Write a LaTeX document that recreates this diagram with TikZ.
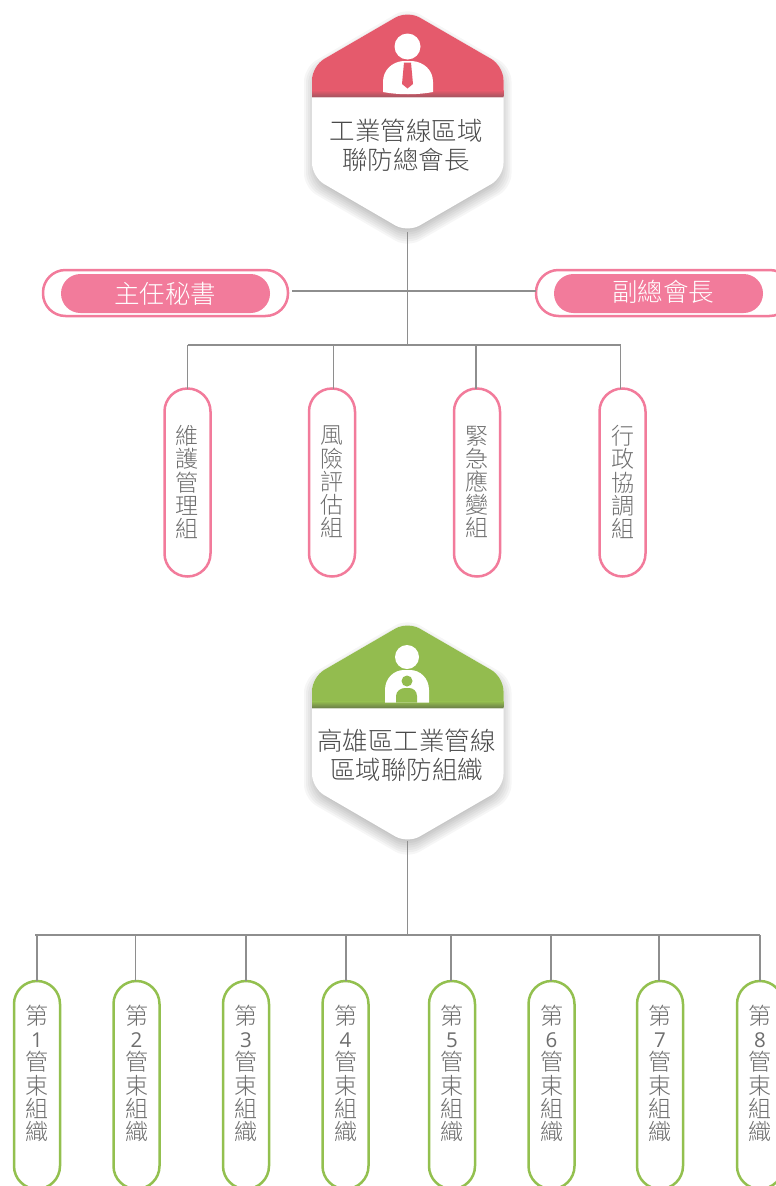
\documentclass[tikz,border=0pt]{standalone}
\usepackage{fontspec}
\newfontfamily\cjk{Noto Sans CJK TC Light}
\newfontfamily\dig{Open Sans}
\usetikzlibrary{calc}
\definecolor{hexred}{HTML}{E55A6C}
\definecolor{hexreddark}{HTML}{A85560}
\definecolor{hexgreen}{HTML}{93BC4F}
\definecolor{hexgreendark}{HTML}{6E8248}
\definecolor{pink}{HTML}{F27B9B}
\definecolor{pillgreen}{HTML}{93C04F}
\definecolor{conn}{HTML}{8E8E8E}
\definecolor{txtdark}{HTML}{4A4A4A}
\definecolor{txtgray}{HTML}{6E6E6E}
\newcommand{\hexshape}[1]{(407.5,#1+10.5) -- (503.5,#1+66) -- (503.5,#1+177) -- (407.5,#1+232.5) -- (312,#1+177) -- (312,#1+66) -- cycle}
\newcommand{\hexinset}[2]{(407.5,#1+10.5+1.155*#2) -- (503.5-#2,#1+66+0.577*#2) -- (503.5-#2,#1+177-0.577*#2) -- (407.5,#1+232.5-1.155*#2) -- (312+#2,#1+177-0.577*#2) -- (312+#2,#1+66+0.577*#2) -- cycle}
\newcommand{\hexagonbadge}[3]{%
  \foreach \d in {-8,-6,...,12}{
    \fill[black,opacity=.035,rounded corners=14pt,shift={(0,6)}] \hexinset{#1}{\d};
  }
  \fill[white,rounded corners=14pt] \hexshape{#1};
  \begin{scope}
    \clip[rounded corners=14pt] \hexshape{#1};
    \fill[#2] (300,#1) rectangle (515,#1+91);
    \shade[top color=#2,bottom color=#3] (300,#1+90.5) rectangle (515,#1+96.5);
    \fill[white!70!#3] (300,#1+96.5) rectangle (515,#1+97.3);
  \end{scope}
}
\tikzset{
  conn/.style={draw=conn,line width=1.1pt},
  hexanchor/.style={rectangle,minimum width=191pt,minimum height=216pt,inner sep=0pt,outer sep=0pt},
  hextext/.style={inner sep=0pt,outer sep=0pt,align=center,text=txtdark,font=\cjk\fontsize{25.5}{29.5}\selectfont},
  vpinkpill/.style={rectangle,draw=pink,fill=white,line width=2.5pt,rounded corners=23pt,minimum width=46pt,minimum height=188pt,inner sep=0pt,outer sep=0pt},
  vgreenpill/.style={rectangle,draw=pillgreen,fill=white,line width=2.5pt,rounded corners=23pt,minimum width=46pt,minimum height=208pt,inner sep=0pt,outer sep=0pt},
  vtext/.style={inner sep=0pt,outer sep=0pt,align=center,text=txtgray,font=\cjk\fontsize{23}{23.2}\selectfont},
  houter/.style={rectangle,draw=pink,fill=white,line width=2.5pt,rounded corners=22.5pt,minimum height=46pt,inner sep=0pt,outer sep=0pt},
  hinner/.style={rectangle,fill=pink,rounded corners=19.5pt,minimum height=39pt,minimum width=209pt,inner sep=0pt,outer sep=0pt},
  hlabel/.style={inner sep=0pt,text=white,font=\cjk\fontsize{25.5}{30}\selectfont},
}
\begin{document}
\begin{tikzpicture}[x=1pt,y=-1pt]
\useasboundingbox (0,0) rectangle (776,1186);

% upper badge
\hexagonbadge{0}{hexred}{hexreddark}
\node[hexanchor] (hexA) at (407.5,124) {};
\fill[white] (407.5,46.5) circle (13);
\fill[white] (383,92) -- (383,82) .. controls (383,70) and (392,62) .. (403,61) -- (412,61) .. controls (424,62) and (433,70) .. (433,82) -- (433,92) .. controls (417,95) and (399,95) .. (383,92) -- cycle;
\fill[hexred] (404,62.5) -- (411,62.5) -- (413,84) -- (407.5,88.5) -- (402,84) -- cycle;
\node[hextext] (hexAt) at (406,145.5) {工業管線區域\\聯防總會長};

% upper connectors
\coordinate (trunkA) at (407.5,291);
\coordinate (busA) at (407.5,345);
\coordinate (d1) at (187.5,345);
\coordinate (d2) at (333.5,345);
\coordinate (d3) at (476,345);
\coordinate (d4) at (620.5,345);

\node[houter,minimum width=245pt] (secO) at (165.5,293) {};
\node[hinner] (sec) at (165.5,293.5) {};
\node[hlabel] (secT) at (165,294) {主任秘書};
\node[houter,minimum width=256pt] (vicO) at (664,293) {};
\node[hinner] (vic) at (658.5,293.5) {};
\node[hlabel] (vicT) at (663,292) {副總會長};

\node[vpinkpill] (a1) at (187.5,482.5) {};
\node[vpinkpill] (a2) at (332,482.5) {};
\node[vpinkpill] (a3) at (477,482.5) {};
\node[vpinkpill] (a4) at (622.5,482.5) {};
\node[vtext] at (187,482) (a1t) {維\\護\\管\\理\\組};
\node[vtext] at (332,482) (a2t) {風\\險\\評\\估\\組};
\node[vtext] at (477,482) (a3t) {緊\\急\\應\\變\\組};
\node[vtext] at (622.5,482) (a4t) {行\\政\\協\\調\\組};

\draw[conn] (hexA.south) -- (busA);
\draw[conn] ([xshift=4pt]secO.east |- trunkA) -- (trunkA) -- (vicO.west |- trunkA);
\draw[conn] (d1) -- (d4);
\draw[conn] (d1) -- (d1 |- a1.north);
\draw[conn] (d2) -- (d2 |- a2.north);
\draw[conn] (d3) -- (d3 |- a3.north);
\draw[conn] (d4) -- (d4 |- a4.north);

% lower badge
\hexagonbadge{611}{hexgreen}{hexgreendark}
\node[hexanchor] (hexB) at (407.5,733) {};
\fill[white] (407,657) circle (12);
\fill[white] (385,702.5) -- (385,690) .. controls (385,678) and (394,670) .. (404,670) -- (410,670) .. controls (420,670) and (429,678) .. (429,690) -- (429,702.5) -- cycle;
\fill[hexgreen] (407,681) circle (5.5);
\fill[hexgreen] (396,702.5) -- (396,696) .. controls (396,691) and (401,688) .. (405,688) -- (409,688) .. controls (413,688) and (417,691) .. (417,696) -- (417,702.5) -- cycle;
\node[hextext] (hexBt) at (406.5,755.5) {高雄區工業管線\\區域聯防組織};

% lower row
\coordinate (busB) at (407.5,935);
\coordinate (busL) at (35,935);
\coordinate (busR) at (760,935);
\foreach \n/\px/\dx/\num in {1/37/37/1,2/136.5/135.5/2,3/246/246/3,4/345.5/346/4,5/452/451/5,6/551.5/551/6,7/660/659/7,8/760/760/8}{
  \node[vgreenpill] (b\n) at (\px,1085) {};
  \node[vtext] (b\n t) at (\px,1073.5) {第\\{\dig\fontsize{20.5}{23.2}\selectfont\num}\\管\\束\\組\\織};
  \coordinate (c\n) at (\dx,935);
  \draw[conn] (c\n) -- (c\n |- b\n.north);
}
\draw[conn] (hexB.south) -- (busB);
\draw[conn] (busL) -- (busR);
\end{tikzpicture}
\end{document}
